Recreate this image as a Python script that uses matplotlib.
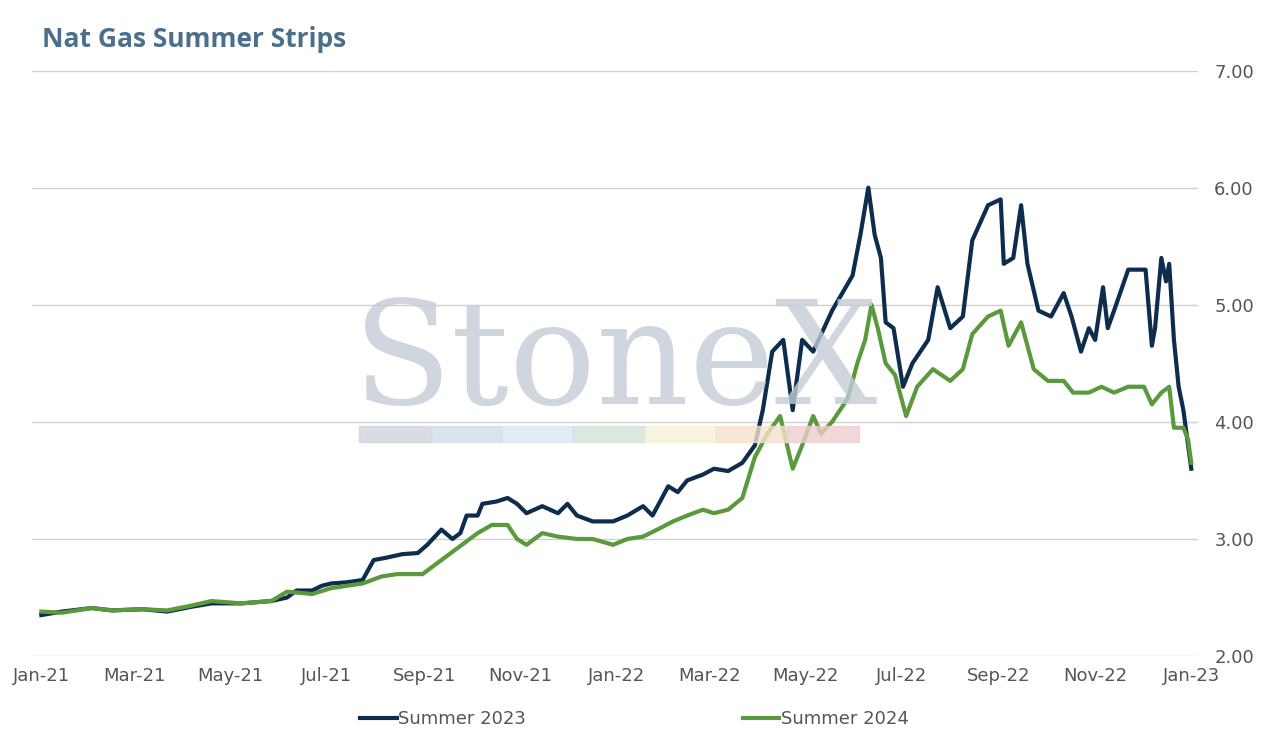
import matplotlib.pyplot as plt
import matplotlib.dates as mdates
import pandas as pd

# days since 2021-01-01
days_23 = [0,13,32,45,64,80,95,108,127,146,156,162,172,178,184,194,204,211,219,229,239,245,254,261,266,270,
           277,280,289,296,302,308,318,328,334,340,350,363,372,382,388,398,404,410,420,427,436,445,453,458,
           464,471,477,483,490,502,515,520,525,529,533,536,541,547,553,563,569,577,585,591,601,609,611,617,
           622,626,633,641,649,654,660,665,669,674,677,681,690,701,705,707,711,714,716,719,722,725,728,730]
summer_2023 = [2.35,2.38,2.41,2.39,2.40,2.38,2.42,2.45,2.45,2.47,2.50,2.56,2.56,2.60,2.62,2.63,2.65,2.82,2.84,2.87,2.88,2.95,3.08,3.00,3.05,3.20,
               3.20,3.30,3.32,3.35,3.30,3.22,3.28,3.22,3.30,3.20,3.15,3.15,3.20,3.28,3.20,3.45,3.40,3.50,3.55,3.60,3.58,3.65,3.80,4.10,
               4.60,4.70,4.10,4.70,4.60,4.95,5.25,5.60,6.00,5.60,5.40,4.85,4.80,4.30,4.50,4.70,5.15,4.80,4.90,5.55,5.85,5.90,5.35,5.40,
               5.85,5.35,4.95,4.90,5.10,4.90,4.60,4.80,4.70,5.15,4.80,4.95,5.30,5.30,4.65,4.80,5.40,5.20,5.35,4.70,4.30,4.10,3.80,3.60]

days_24 = [0,13,32,45,64,80,95,108,127,146,156,172,184,204,216,226,242,254,267,277,286,296,302,308,318,328,340,350,363,372,382,
           391,401,410,420,427,436,445,453,461,469,477,483,490,495,502,512,518,523,527,531,536,542,549,556,566,577,585,591,601,
           609,614,622,630,639,649,655,665,673,681,690,700,705,711,716,719,725,728,730]
summer_2024 = [2.38,2.37,2.41,2.39,2.40,2.39,2.43,2.47,2.45,2.47,2.55,2.53,2.58,2.62,2.68,2.70,2.70,2.82,2.95,3.05,3.12,3.12,3.00,2.95,3.05,3.02,3.00,3.00,2.95,3.00,3.02,
               3.08,3.15,3.20,3.25,3.22,3.25,3.35,3.70,3.90,4.05,3.60,3.80,4.05,3.90,4.00,4.20,4.50,4.70,5.00,4.80,4.50,4.40,4.05,4.30,4.45,4.35,4.45,4.75,4.90,
               4.95,4.65,4.85,4.45,4.35,4.35,4.25,4.25,4.30,4.25,4.30,4.30,4.15,4.25,4.30,3.95,3.95,3.85,3.65]

start = pd.Timestamp("2021-01-01")
dates_23 = start + pd.to_timedelta(days_23, unit="D")
dates_24 = start + pd.to_timedelta(days_24, unit="D")
months = pd.date_range("2021-01-01", "2023-01-01", freq="2MS")

fig, ax = plt.subplots(figsize=(12.74, 7.43), dpi=100)
fig.subplots_adjust(left=0.025, right=0.94, top=0.905, bottom=0.117)

ax.plot(dates_23, summer_2023, color="#0d2c4e", lw=3, label="Summer 2023", zorder=3)
ax.plot(dates_24, summer_2024, color="#5a9a3c", lw=3, label="Summer 2024", zorder=3)

ax.set_ylim(2, 7)
ax.set_xlim(pd.Timestamp("2020-12-26"), pd.Timestamp("2023-01-05"))
ax.yaxis.tick_right()
ax.set_yticks([2, 3, 4, 5, 6, 7])
ax.set_yticklabels([f"{v:.2f}" for v in [2, 3, 4, 5, 6, 7]])
ax.set_xticks(months)
ax.xaxis.set_major_formatter(mdates.DateFormatter("%b-%y"))
ax.tick_params(length=0, labelsize=13, colors="#555555", pad=8)
ax.tick_params(axis="y", pad=12)
ax.yaxis.grid(color="#d0d0d0", lw=1)
ax.set_axisbelow(True)
for s in ax.spines.values():
    s.set_visible(False)

# watermark
fig.text(0.483, 0.51, "StoneX", fontsize=104, family="DejaVu Serif", color="#c5ccd6",
         alpha=0.8, ha="center", va="center", zorder=0)
strip = ["#cfd5de", "#d3dde8", "#dce8f2", "#d4e3d8", "#f6f1d8", "#f6e2cc", "#eecdcd"]
for i, c in enumerate(strip):
    fig.patches.append(plt.Rectangle((0.282 + i * 0.056, 0.405), 0.056, 0.022,
                                     transform=fig.transFigure, color=c, alpha=0.8, zorder=0))

fig.text(0.033, 0.937, "Nat Gas Summer Strips", fontsize=19, fontweight="bold", color="#4a6f8a", family="Open Sans")
ax.legend(loc="upper center", bbox_to_anchor=(0.517, -0.065), ncol=2, frameon=False,
          fontsize=13, labelcolor="#555555", handlelength=2, columnspacing=12, handletextpad=0.1)

fig.savefig("out.png")
